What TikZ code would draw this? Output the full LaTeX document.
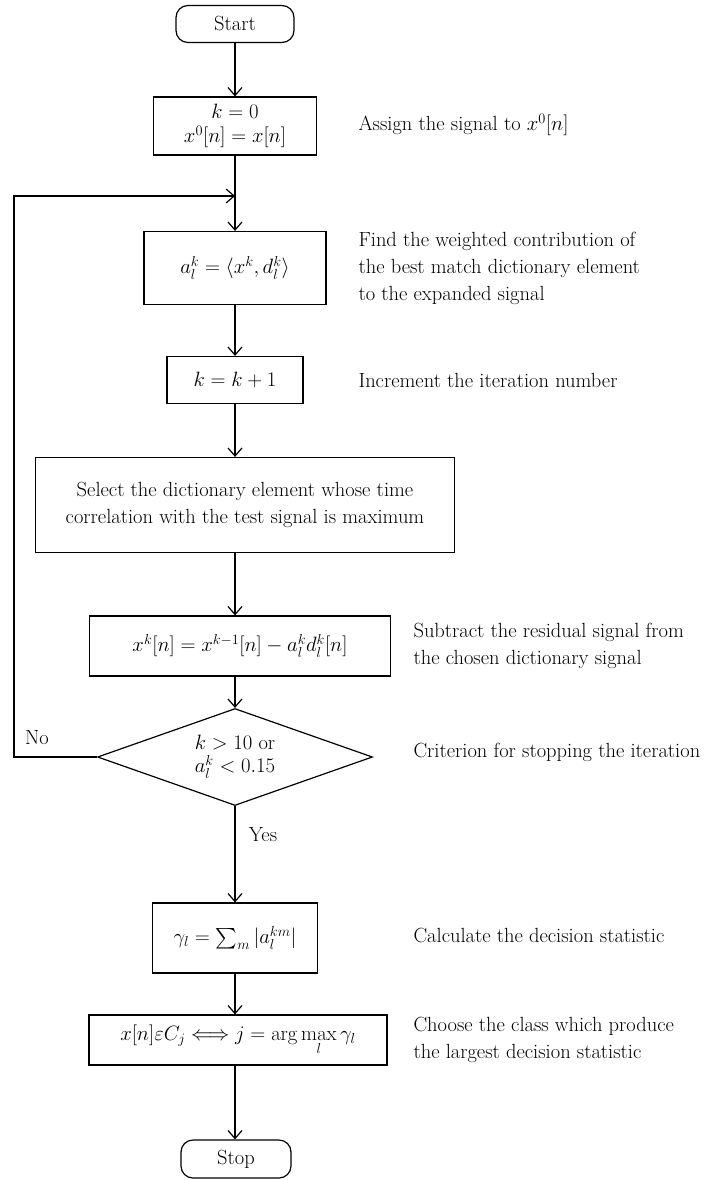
\documentclass[tikz,border=0pt]{standalone}
\usepackage{amsmath}
\usepackage{amssymb}
\usepackage{tikz}
\usetikzlibrary{positioning, arrows.meta, shapes.geometric}

\tikzset{
  flow/.style={-{Straight Barb[length=8pt, width=14pt]}, line width=1.2pt},
  procbox/.style={draw, line width=1.2pt, rectangle, align=center, inner sep=0pt},
  termbox/.style={draw, line width=1.2pt, rectangle, rounded corners=12pt, inner sep=0pt},
  decide/.style={draw, line width=1.2pt, diamond, aspect=2.85, align=center, inner sep=0pt},
  note/.style={anchor=west, align=left},
}

\begin{document}
\begin{tikzpicture}[x=1pt, y=-1pt, font=\fontsize{20.5}{27}\selectfont]

\useasboundingbox (0,0) rectangle (706,1180);

% --- Main column ---
\node[termbox, minimum width=118pt, minimum height=37pt] (start) at (235,24) {Start};
\node[procbox, minimum width=163pt, minimum height=58pt] (init) at (235,126)
  {$k=0$\\[-3pt] $x^0[n]=x[n]$};
\coordinate (loopin) at (235,196);
\node[procbox, minimum width=182pt, minimum height=73pt] (coef) at (235,268)
  {$a_l^k=\langle x^k,d_l^k\rangle$};
\node[procbox, minimum width=136pt, minimum height=47pt] (incr) at (235,380)
  {$k=k+1$};
\node[procbox, minimum width=419pt, minimum height=95pt] (select) at (245,505)
  {Select the dictionary element whose time\\ correlation with the test signal is maximum};
\node[procbox, minimum width=301pt, minimum height=60pt] (resid) at (240,646)
  {$x^k[n]=x^{k-1}[n]-a_l^k d_l^k[n]$};
\node[decide, minimum width=275pt, minimum height=97pt] (test) at (235,757)
  {$k>10$ or\\[-4pt] $a_l^k<0.15$};
\node[procbox, minimum width=165pt, minimum height=70pt] (stat) at (235,938)
  {$\gamma_l=\sum_m|a_l^{km}|$};
\node[procbox, minimum width=298pt, minimum height=50pt] (class) at (238,1040)
  {$x[n]\varepsilon C_j\Longleftrightarrow j=\arg\max\limits_l\gamma_l$};
\node[termbox, minimum width=110pt, minimum height=38pt] (stop) at (236,1159) {Stop};

% --- Branch labels ---
\node (no) at (37,738) {No};
\node (yes) at (263,835) {Yes};

% --- Connectors ---
\draw[flow] (start) -- (init);
\draw[flow] (init) -- (coef);
\draw[flow] (coef) -- (incr);
\draw[flow] (incr) -- (incr |- select.north);
\draw[flow] (select.south -| incr) -- (incr |- resid.north);
\draw[flow] (resid.south -| test) -- (test);
\draw[flow] (test) -- (stat);
\draw[flow] (stat) -- (stat |- class.north);
\draw[flow] (class.south -| stat) -- (stat |- stop.north);

% --- Loop back ---
\coordinate (loopcorner) at (14,757);
\draw[flow] (test.west) -- (loopcorner) |- (loopin);

% --- Side notes ---
\node[note] (ninit) at (355,125) {Assign the signal to $x^0[n]$};
\node[note] (ncoef) at (355,268) {Find the weighted contribution of\\
  the best match dictionary element\\ to the expanded signal};
\node[note] (nincr) at (355,380) {Increment the iteration number};
\node[note] (nresid) at (410,646) {Subtract the residual signal from\\
  the chosen dictionary signal};
\node[note] (ntest) at (410,752) {Criterion for stopping the iteration};
\node[note] (nstat) at (410,935) {Calculate the decision statistic};
\node[note] (nclass) at (410,1040) {Choose the class which produce\\
  the largest decision statistic};

\end{tikzpicture}
\end{document}
